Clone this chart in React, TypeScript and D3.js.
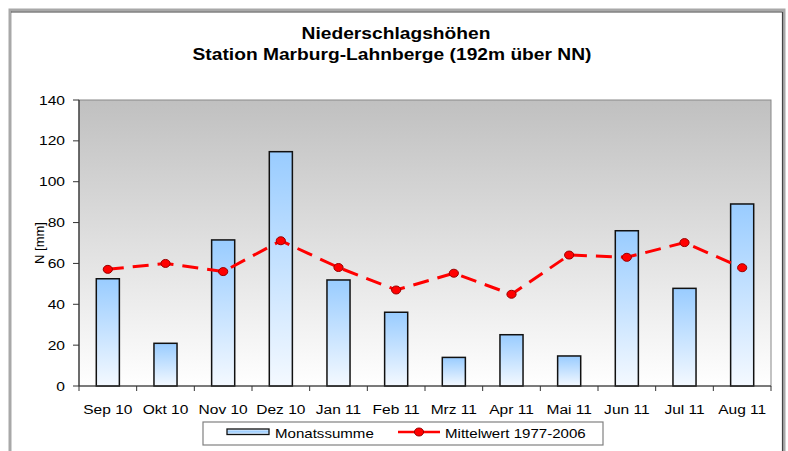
import * as d3 from "d3";

// Niederschlag Marburg-Lahnberge, Sep 2010 – Aug 2011
const months = ["Sep 10", "Okt 10", "Nov 10", "Dez 10", "Jan 11", "Feb 11",
  "Mrz 11", "Apr 11", "Mai 11", "Jun 11", "Jul 11", "Aug 11"];
const monatssumme = [52.5, 20.9, 71.5, 114.7, 51.9, 36.1, 14.0, 25.1, 14.7, 76.0, 47.8, 89.1];
const mittelwert = [57.1, 60.0, 56.0, 71.1, 58.0, 47.0, 55.2, 44.9, 64.1, 63.0, 70.2, 57.9];
const yTicks = [0, 20, 40, 60, 80, 100, 120, 140];

const FONT = "'Liberation Sans', Arial, sans-serif";

// the original is a horizontally stretched Excel export, so text gets a scaleX
function SText({ x, y, sx = 1.17, size = 13, anchor = "middle", weight = "normal", children }:
  { x: number; y: number; sx?: number; size?: number; anchor?: string; weight?: string; children: any }) {
  return (
    <text transform={`translate(${x},${y}) scale(${sx},1)`} textAnchor={anchor as any}
          fontFamily={FONT} fontSize={size} fontWeight={weight} fill="#000">{children}</text>
  );
}

export default function App() {
  const L = 79, R = 771, T = 100, B = 386;
  const x = d3.scaleBand<string>().domain(months).range([L, R]).padding(0);
  const y = d3.scaleLinear().domain([0, 140]).range([B, T]);
  const bw = x.bandwidth() * 0.4;
  const cx = (m: string) => (x(m) ?? 0) + x.bandwidth() / 2;
  const line = d3.line<number>().x((_, i) => cx(months[i])).y((v) => y(v));
  const bounds = [...months.map((m) => x(m) ?? 0), R];

  return (
    <svg width={788} height={451} style={{ position: "absolute", left: 0, top: 0, background: "#fff" }}>
      <defs>
        <linearGradient id="plotBg" x1="0" y1="0" x2="0" y2="1">
          <stop offset="0" stopColor="#c0c0c0" />
          <stop offset="1" stopColor="#ffffff" />
        </linearGradient>
        <linearGradient id="barFill" x1="0" y1="0" x2="0" y2="1">
          <stop offset="0" stopColor="#99ccff" />
          <stop offset="1" stopColor="#f4f9ff" />
        </linearGradient>
        <linearGradient id="barFillL" x1="0" y1="0" x2="0" y2="1">
          <stop offset="0" stopColor="#f4f9ff" />
          <stop offset="0.5" stopColor="#99ccff" />
          <stop offset="1" stopColor="#f4f9ff" />
        </linearGradient>
      </defs>

      {/* chart frame */}
      <rect x={10} y={10} width={774} height={460} fill="#fff" stroke="#a8a8a8" strokeWidth={3} />
      <line x1={11} y1={12} x2={782.5} y2={12} stroke="#444" strokeWidth={1.2} />
      <line x1={782.5} y1={12} x2={782.5} y2={451} stroke="#444" strokeWidth={1.2} />

      <SText x={396} y={39} size={17} sx={1.13} weight="bold">Niederschlagshöhen</SText>
      <SText x={392} y={60} size={17} sx={1.13} weight="bold">Station Marburg-Lahnberge (192m über NN)</SText>

      {/* plot area */}
      <rect x={L} y={T} width={R - L} height={B - T} fill="url(#plotBg)" stroke="#888" strokeWidth={1} />

      {months.map((m, i) => (
        <rect key={m} x={cx(m) - bw / 2} y={y(monatssumme[i])} width={bw}
              height={B - y(monatssumme[i])} fill="url(#barFill)" stroke="#111" strokeWidth={1.5} />
      ))}

      {/* axes */}
      <line x1={L} y1={T} x2={L} y2={B} stroke="#333" strokeWidth={1.2} />
      <line x1={L} y1={B} x2={R} y2={B} stroke="#333" strokeWidth={1.2} />
      {yTicks.map((t) => (
        <g key={t}>
          <line x1={L - 6} x2={L} y1={y(t)} y2={y(t)} stroke="#333" />
          <SText x={65} y={y(t) + 4.6} anchor="end" sx={1.2}>{t}</SText>
        </g>
      ))}
      {bounds.map((b, i) => (
        <line key={i} x1={b} x2={b} y1={B} y2={B + 5} stroke="#333" />
      ))}
      {months.map((m) => (
        <SText key={m} x={cx(m)} y={413.5} size={13.5} sx={1.15}>{m}</SText>
      ))}
      <text transform="translate(44,243) rotate(-90)" textAnchor="middle"
            fontFamily={FONT} fontSize={13}>N [mm]</text>

      {/* Mittelwert line */}
      <path d={line(mittelwert) ?? ""} fill="none" stroke="#ff0000" strokeWidth={3}
            strokeDasharray="16 9" />
      {mittelwert.map((v, i) => (
        <ellipse key={i} cx={cx(months[i])} cy={y(v)} rx={4.6} ry={4} fill="#ff0000" stroke="#900" strokeWidth={1} />
      ))}

      {/* legend */}
      <rect x={203} y={422} width={400} height={23} fill="#fff" stroke="#808080" strokeWidth={1.2} />
      <rect x={227} y={429} width={42} height={5.5} fill="url(#barFillL)" stroke="#111" strokeWidth={1.3} />
      <SText x={275} y={438} anchor="start" sx={1.16}>Monatssumme</SText>
      <line x1={398} x2={440} y1={432} y2={432} stroke="#ff0000" strokeWidth={2.5} />
      <ellipse cx={419} cy={432} rx={4.6} ry={4} fill="#ff0000" stroke="#900" strokeWidth={1} />
      <SText x={445} y={438} anchor="start" sx={1.16}>Mittelwert 1977-2006</SText>
    </svg>
  );
}
